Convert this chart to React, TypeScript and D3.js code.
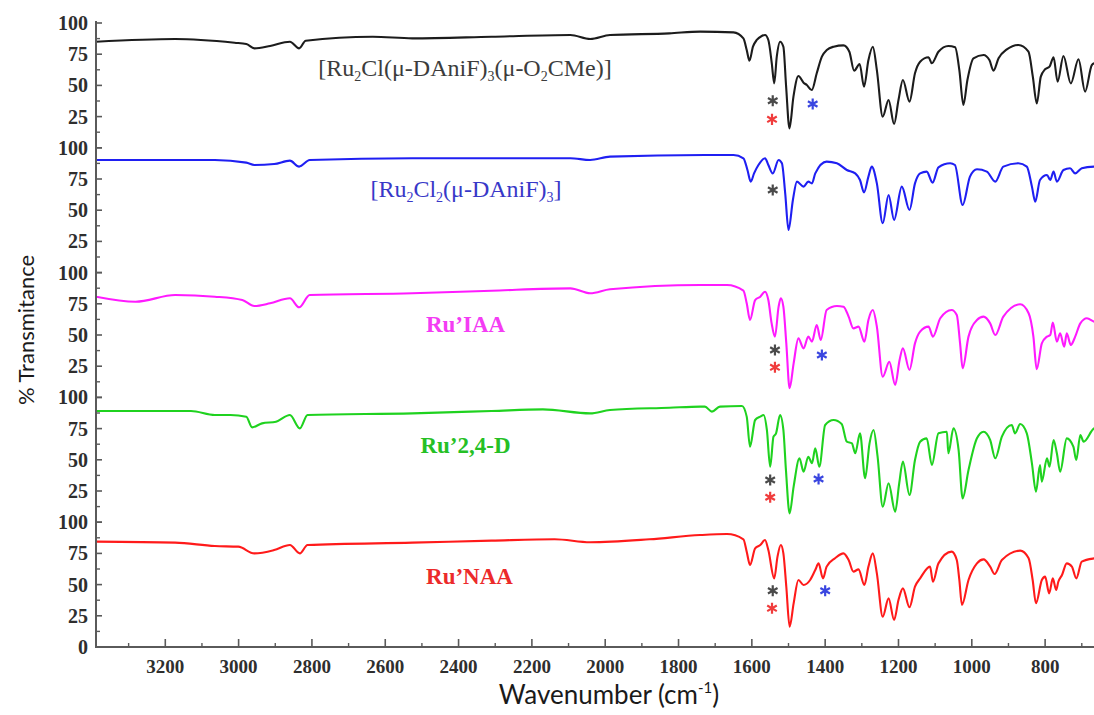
import React from 'react';
import * as d3 from 'd3';

type Pt = [number, number];

// ---------- data (wavenumber cm-1, % transmittance) ----------
const spectrumAcetate: Pt[] = [
  [3389, 85], [3173, 87.2], [3011, 84.2], [2979, 83.2], [2957, 79.7], [2914, 81.6], [2860, 85], [2835, 79.7],
  [2817, 85.8], [2634, 89], [2526, 87.7], [2310, 89], [2095, 90.4], [2041, 87.2], [1987, 90.4], [1825, 91.7],
  [1741, 93.1], [1650, 92.5], [1623, 87.7], [1614, 78.4], [1606.5, 69.8], [1597, 81], [1586.5, 86.4], [1573, 89.6],
  [1564, 90.4], [1555, 86.4], [1545.6, 67.7], [1539, 51.6], [1532, 73], [1523, 85], [1514, 81], [1506.5, 49],
  [1497.4, 15.6], [1486.5, 41], [1473, 57.5], [1459, 52.2], [1450, 50.3], [1436.5, 46.3], [1423, 59.7], [1409, 73],
  [1395.6, 78.4], [1377, 81], [1350, 82.1], [1334, 77], [1321, 61.8], [1306, 67.1], [1294, 49], [1282, 70.3],
  [1270, 81], [1259, 62.3], [1243, 24.9], [1227, 38.3], [1212, 19.1], [1200, 38.3], [1188, 54.3], [1170, 37],
  [1155, 59.7], [1141, 69], [1118, 72.5], [1109, 67.7], [1091, 77], [1064, 81.6], [1045.5, 80.5], [1034, 62.3],
  [1023, 34.3], [1012, 54.3], [995.5, 71.7], [968, 74.4], [952, 70.3], [941, 61.8], [927, 71.7], [904.5, 78.9],
  [872.7, 82.4], [845.4, 77], [833.6, 57], [822.7, 35.6], [811.8, 57], [800, 62.9], [788, 65], [777, 72.5],
  [766, 53], [750, 73.6], [730, 51.6], [709, 70.9], [691, 45], [672.7, 66.3], [666, 67.7], [650, 68.5],
];

const spectrumChloride: Pt[] = [
  [3389, 90.2], [3065, 90.2], [2979, 88.1], [2957, 86.2], [2903, 87], [2860, 89.7], [2835, 84.9], [2806, 90.2],
  [2526, 91.6], [2095, 91.6], [2041, 90.2], [1987, 92.9], [1728, 94.2], [1650, 94.2], [1623, 91.6], [1612, 82.2],
  [1603, 72.9], [1594, 79.5], [1582, 86.2], [1564, 91.6], [1555, 86.2], [1543, 79.5], [1527, 90.2], [1518, 87.6],
  [1509, 63.5], [1500, 34.1], [1488, 58.2], [1477, 72.9], [1459, 68.9], [1446, 72.9], [1436, 71.5], [1427, 79.5],
  [1396, 88.9], [1368, 87.6], [1341, 82.2], [1318, 79.5], [1305, 74.2], [1294, 64.3], [1282, 76.9], [1273, 84.9],
  [1259, 71.5], [1243, 39.5], [1227, 62.2], [1212, 42.2], [1191, 68.9], [1170, 50.2], [1155, 71.5], [1141, 79.5],
  [1123, 80.9], [1107, 72.1], [1091, 84.4], [1059, 87.6], [1046, 86.2], [1025, 54.2], [1005, 76.9], [986, 82.8],
  [959, 80.9], [936, 72.9], [914, 84.9], [873, 87.6], [850, 84.9], [836, 68.9], [827, 56.8], [814, 74.2],
  [795, 78.2], [786, 74.2], [777, 80.9], [768, 72.9], [750, 82.2], [732, 83.6], [718, 79.5], [700, 83.6],
  [666, 84.9], [650, 85],
];

const spectrumIAA: Pt[] = [
  [3389, 80.7], [3281, 76.7], [3173, 82], [3065, 80.7], [2990, 78], [2957, 73.2], [2914, 75.4], [2860, 79.4],
  [2835, 72.2], [2806, 82], [2526, 83.4], [2310, 85.5], [2095, 87.4], [2041, 83.4], [1987, 86.6], [1741, 90.1],
  [1668, 90.1], [1623, 85.5], [1614, 75.4], [1605, 62], [1591, 78], [1577, 80.7], [1564, 84.7], [1555, 78],
  [1546, 59.3], [1537, 48.7], [1527, 72.7], [1521, 79.4], [1514, 72.7], [1506, 43.3], [1497, 7.3], [1486, 27.3],
  [1473, 47.3], [1459, 39.3], [1446, 48.7], [1436, 44.7], [1423, 58], [1412, 46], [1396, 70], [1368, 73.2],
  [1350, 72.7], [1336, 64.7], [1323, 55.3], [1309, 56.7], [1293, 44.7], [1282, 62], [1270, 70], [1259, 56.7],
  [1243, 16.6], [1225, 28.6], [1209, 10], [1197, 30], [1188, 39.3], [1170, 22], [1155, 43.3], [1141, 52.7],
  [1118, 56.7], [1106, 48.7], [1086, 63.4], [1055, 70], [1041, 66], [1032, 43.3], [1025, 23.3], [1009, 48.7],
  [986, 62], [968, 64.7], [950, 59.3], [936, 50], [914, 64.7], [868, 74.6], [845, 67.4], [832, 48.7],
  [823, 22.5], [809, 43.3], [795, 48.7], [786, 50], [779, 59.9], [768, 44.7], [759, 51.3], [748, 40.6],
  [741, 51.3], [730, 42], [718, 48.7], [704, 59.3], [686, 63.4], [666, 60.7], [650, 60],
];

const spectrum24D: Pt[] = [
  [3389, 89.1], [3130, 89.1], [3065, 85.9], [3022, 85.9], [2979, 84.5], [2963, 76], [2936, 79.2], [2898, 80.5],
  [2860, 85.9], [2833, 75.2], [2812, 85.9], [2526, 87.2], [2310, 89.1], [2170, 90.4], [2041, 87.2], [1987, 89.9],
  [1825, 91.7], [1741, 92.6], [1728, 92.6], [1709, 88.6], [1687, 92.6], [1627, 93.1], [1614, 84.6], [1605, 60.5],
  [1591, 81.9], [1577, 84.6], [1568, 85.9], [1559, 73.9], [1550, 44.5], [1541, 68.5], [1534, 71.2], [1523, 85.9],
  [1514, 73.9], [1507, 41.8], [1497, 7.1], [1486, 28.5], [1470, 51.2], [1459, 40.5], [1446, 52.5], [1436, 47.2],
  [1427, 59.2], [1416, 44.5], [1400, 77.9], [1377, 81.9], [1355, 78.7], [1341, 64.5], [1327, 63.2], [1318, 55.2],
  [1305, 71.2], [1291, 35.2], [1279, 63.2], [1268, 73.9], [1257, 52.5], [1243, 12.4], [1227, 31.2], [1209, 8.4],
  [1198, 31.2], [1188, 48.5], [1170, 21.8], [1155, 49.8], [1141, 64.5], [1123, 67.2], [1109, 45.8], [1091, 71.2],
  [1068, 72.5], [1064, 55.2], [1050, 75.2], [1036, 57.8], [1025, 19.1], [1009, 41.8], [986, 67.2], [968, 72.5],
  [950, 65.9], [936, 51.2], [918, 68.5], [891, 77.9], [882, 71.2], [868, 78.7], [850, 71.2], [836, 47.2],
  [825, 24.5], [814, 45.8], [809, 32.5], [795, 51.2], [788, 44.5], [777, 65.9], [768, 55.2], [759, 40.5],
  [741, 67.2], [723, 60.5], [715, 49.8], [704, 69.9], [695, 64.5], [666, 75.2], [650, 76],
];

const spectrumNAA: Pt[] = [
  [3389, 84.4], [3173, 83.6], [3065, 80.9], [3001, 80.4], [2957, 75], [2903, 77.7], [2860, 81.7], [2833, 75],
  [2812, 81.7], [2526, 83.6], [2310, 85.2], [2138, 86.3], [2041, 83.9], [1879, 86.3], [1741, 89.7], [1668, 90.5],
  [1623, 86.3], [1614, 76.4], [1605, 65.7], [1591, 79], [1577, 81.7], [1564, 85.7], [1555, 77.7], [1539, 55],
  [1530, 72.4], [1521, 81.7], [1514, 75], [1506, 48.3], [1497, 16.3], [1486, 35], [1473, 53.7], [1459, 49.7],
  [1441, 53.7], [1427, 61.7], [1418, 67], [1406, 55], [1396, 64.4], [1373, 71.1], [1350, 75], [1336, 69.7],
  [1323, 60.4], [1309, 62.2], [1293, 49.7], [1282, 64.4], [1270, 75], [1259, 59], [1243, 24.3], [1227, 39],
  [1212, 21.6], [1200, 37.7], [1188, 47], [1170, 31.8], [1155, 48.3], [1141, 55], [1114, 64.4], [1106, 52.3],
  [1091, 67], [1055, 76.4], [1041, 69.7], [1034, 53.7], [1027, 33.7], [1009, 53.7], [986, 67], [968, 70.2],
  [950, 64.4], [938, 58.5], [918, 69.7], [868, 77.2], [845, 71.1], [834, 53.7], [825, 35], [809, 53.7],
  [800, 56.4], [789, 43], [779, 55], [770, 45.7], [764, 52.3], [754, 57.7], [741, 67], [727, 64.4],
  [715, 55], [700, 68.4], [666, 71], [650, 71.5],
];

const spectra: Pt[][] = [spectrumAcetate, spectrumChloride, spectrumIAA, spectrum24D, spectrumNAA];
const spectrumColors = ['#1c1c1c', '#1f1ff2', '#ff1aff', '#1fd21f', '#ff1a1a'];

// asterisk marks per panel: [wavenumber, value]
const asteriskGray: Pt[][] = [[[1543, 37.7]], [[1543, 66.2]], [[1537, 38]], [[1550, 33.8]], [[1543, 45.1]]];
const asteriskRed: Pt[][] = [[[1545, 22.8]], [], [[1537, 24.1]], [[1550, 20]], [[1545, 31]]];
const asteriskBlue: Pt[][] = [[[1434, 35.1]], [], [[1409, 34]], [[1418, 34.6]], [[1400, 45.1]]];

const xMajorTicks = [3200, 3000, 2800, 2600, 2400, 2200, 2000, 1800, 1600, 1400, 1200, 1000, 800];
const xMinorTicks = [3300, 3100, 2900, 2700, 2500, 2300, 2100, 1900, 1700, 1500, 1300, 1100, 900, 700];
const yMajorTicks = [0, 25, 50, 75, 100];
const yMinorTicks = [12.5, 37.5, 62.5, 87.5];
const yTickLabels = [100, 75, 50, 25];

// ---------- layout ----------
const W = 1094;
const H = 715;
const left = 96;
const top = 23;
const panelH = 124.8;
const bottom = top + panelH * 5;
const pxPerCm = 0.3666;
const xMax = 3389;
const xMin = 650;

const axisColor = '#5a5a5a';
const tickTextColor = '#2e2e2e';
const serif = '"Liberation Serif", "Times New Roman", serif';
const sans = 'Lato, "Open Sans", sans-serif';

const x = d3.scaleLinear().domain([xMax, xMin]).range([left, left + (xMax - xMin) * pxPerCm]);
const yPanel = (i: number) => d3.scaleLinear().domain([0, 100]).range([top + panelH * (i + 1), top + panelH * i]);

const asteriskPath = d3.symbol().type(d3.symbolAsterisk).size(86)() as string;

export default function App() {
  return (
    <svg width={W} height={H} style={{ position: 'absolute', left: 0, top: 0, background: '#fff' }}>
      <defs>
        <clipPath id="plotclip">
          <rect x={left} y={0} width={W - left} height={bottom} />
        </clipPath>
      </defs>

      {/* spectra */}
      <g clipPath="url(#plotclip)">
        {spectra.map((s, i) => {
          const y = yPanel(i);
          const line = d3.line<Pt>().x((d) => x(d[0])).y((d) => y(d[1])).curve(d3.curveMonotoneX);
          return <path key={i} d={line(s) as string} fill="none" stroke={spectrumColors[i]} strokeWidth={2.1} strokeLinejoin="round" />;
        })}
      </g>

      {/* asterisks */}
      {[
        { list: asteriskGray, color: '#4a4a4a' },
        { list: asteriskRed, color: '#f03c3c' },
        { list: asteriskBlue, color: '#3a46e0' },
      ].map((g, gi) =>
        g.list.map((pts, pi) =>
          pts.map((p, k) => (
            <path
              key={`${gi}-${pi}-${k}`}
              d={asteriskPath}
              transform={`translate(${x(p[0])},${yPanel(pi)(p[1])})`}
              fill="none"
              stroke={g.color}
              strokeWidth={2.2}
            />
          ))
        )
      )}

      {/* y axis */}
      <line x1={left} x2={left} y1={top - 2} y2={bottom} stroke={axisColor} strokeWidth={2} />
      {spectra.map((_, i) => {
        const y = yPanel(i);
        return (
          <g key={`yax${i}`}>
            {yMajorTicks.map((t) => (
              <line key={`M${t}`} x1={left} x2={left + 6} y1={y(t)} y2={y(t)} stroke={axisColor} strokeWidth={1.6} />
            ))}
            {yMinorTicks.map((t) => (
              <line key={`m${t}`} x1={left} x2={left + 4} y1={y(t)} y2={y(t)} stroke={axisColor} strokeWidth={1.4} />
            ))}
            {(i === 4 ? [...yTickLabels, 0] : yTickLabels).map((t) => (
              <text key={`l${t}`} x={left - 8} y={y(t)} dy="0.35em" textAnchor="end" fontFamily={serif} fontWeight="bold" fontSize={20} fill={tickTextColor}>
                {t}
              </text>
            ))}
          </g>
        );
      })}

      {/* x axis */}
      <line x1={left - 1} x2={W} y1={bottom} y2={bottom} stroke={axisColor} strokeWidth={2} />
      {xMajorTicks.map((t) => (
        <g key={`xM${t}`}>
          <line x1={x(t)} x2={x(t)} y1={bottom} y2={bottom - 8} stroke={axisColor} strokeWidth={1.6} />
          <text x={x(t)} y={bottom + 26} textAnchor="middle" fontFamily={serif} fontWeight="bold" fontSize={19} fill={tickTextColor}>
            {t}
          </text>
        </g>
      ))}
      {xMinorTicks.map((t) => (
        <line key={`xm${t}`} x1={x(t)} x2={x(t)} y1={bottom} y2={bottom - 4} stroke={axisColor} strokeWidth={1.4} />
      ))}

      {/* axis titles */}
      <text transform="translate(34,330) rotate(-90)" textAnchor="middle" fontFamily={sans} fontSize={22} fill="#1a1a1a">
        % Transmitance
      </text>
      <text x={609} y={704} textAnchor="middle" fontFamily={sans} fontSize={26} fill="#1a1a1a">
        Wavenumber (cm<tspan fontSize={15} dy={-11}>-1</tspan>
        <tspan dy={11}>)</tspan>
      </text>

      {/* series labels */}
      <text x={465} y={76} textAnchor="middle" fontFamily={serif} fontSize={24} fill="#3c3c3c">
        [Ru<tspan fontSize={14} dy={5}>2</tspan>
        <tspan dy={-5}>Cl(μ-DAniF)</tspan>
        <tspan fontSize={14} dy={5}>3</tspan>
        <tspan dy={-5}>(μ-O</tspan>
        <tspan fontSize={14} dy={5}>2</tspan>
        <tspan dy={-5}>CMe)]</tspan>
      </text>
      <text x={466} y={197} textAnchor="middle" fontFamily={serif} fontSize={24} fill="#3838c8">
        [Ru<tspan fontSize={14} dy={5}>2</tspan>
        <tspan dy={-5}>Cl</tspan>
        <tspan fontSize={14} dy={5}>2</tspan>
        <tspan dy={-5}>(μ-DAniF)</tspan>
        <tspan fontSize={14} dy={5}>3</tspan>
        <tspan dy={-5}>]</tspan>
      </text>
      <text x={465.5} y={332} textAnchor="middle" fontFamily={serif} fontWeight="bold" fontSize={23} fill="#f43cf4">
        Ru’IAA
      </text>
      <text x={465.5} y={453} textAnchor="middle" fontFamily={serif} fontWeight="bold" fontSize={23} fill="#25c025">
        Ru’2,4-D
      </text>
      <text x={469.5} y={584} textAnchor="middle" fontFamily={serif} fontWeight="bold" fontSize={23} fill="#ec2a2a">
        Ru’NAA
      </text>
    </svg>
  );
}
